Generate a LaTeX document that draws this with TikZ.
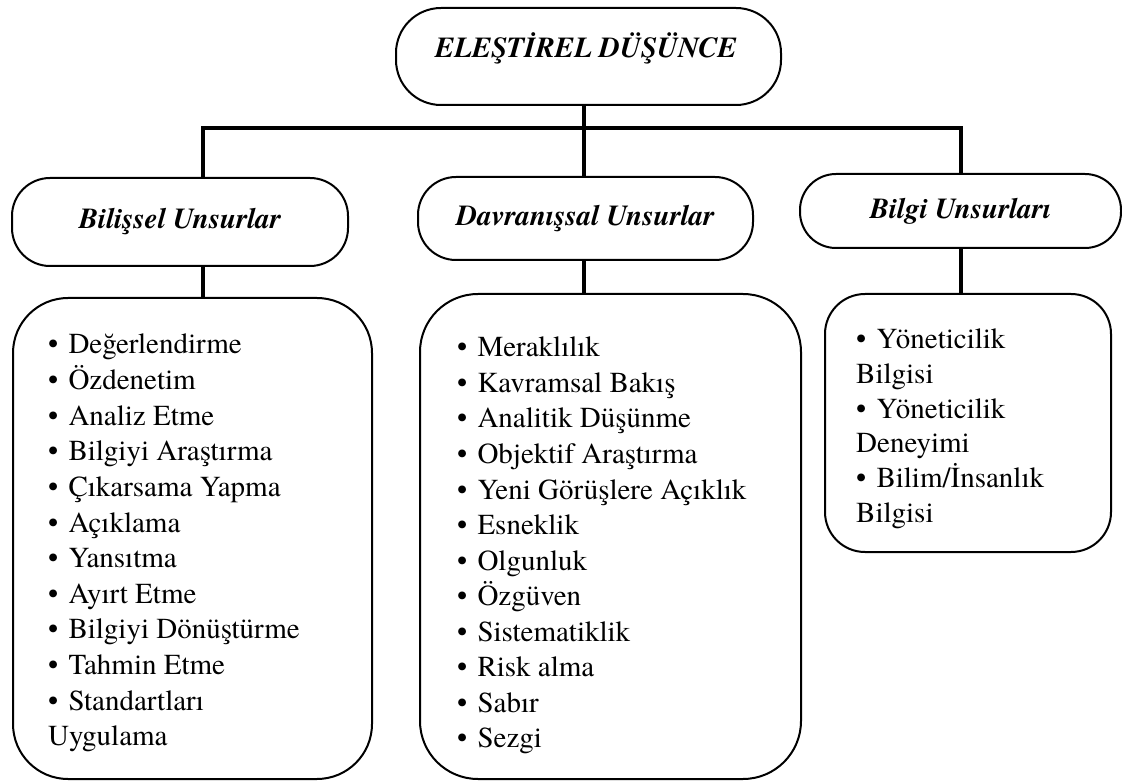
\documentclass[tikz,border=0pt]{standalone}
\usepackage{fontspec}
\setmainfont{texgyretermes}[Extension=.otf, UprightFont=*-regular, BoldFont=*-bold,
  ItalicFont=*-italic, BoldItalicFont=*-bolditalic]
% bullet followed by a slightly wider gap
\newcommand{\itm}{•\hspace{0.35em}}
\begin{document}
\begin{tikzpicture}[x=1pt,y=-1pt,
  frame/.style={draw, line width=2pt, rounded corners=#1, inner sep=0pt, anchor=north west},
  head/.style={font=\fontsize{29}{35}\selectfont\bfseries\itshape},
  item/.style={font=\fontsize{29}{35}\selectfont, anchor=base west, inner sep=0pt},
  link/.style={line width=4.5pt}]
\useasboundingbox[fill=white] (0,0) rectangle (1122,783);

% root concept
\node[frame=45pt, minimum width=385pt, minimum height=97pt] (root) at (395,7) {};
\node[head, anchor=base] (roottext) at (586,58) {ELEŞTİREL DÜŞÜNCE};

% three categories
\node[frame=38pt, minimum width=336pt, minimum height=88pt, head] (catA) at (11,177) {Bilişsel Unsurlar};
\node[frame=38pt, minimum width=335pt, minimum height=83pt, head] (catB) at (417,176) {Davranışsal Unsurlar};
\node[frame=36pt, minimum width=321pt, minimum height=74pt, head] (catC) at (799,173) {Bilgi Unsurları};

% item boxes
\node[frame=55pt, minimum width=359pt, minimum height=481pt] (listA) at (12,297) {};
\node[frame=58pt, minimum width=381pt, minimum height=485pt] (listB) at (419,293) {};
\node[frame=40pt, minimum width=286pt, minimum height=258pt] (listC) at (824,293) {};

% item texts
\foreach \t [count=\i from 0] in {\itm Değerlendirme, \itm Özdenetim, \itm Analiz Etme,
  \itm Bilgiyi Araştırma, \itm Çıkarsama Yapma, \itm Açıklama, \itm Yansıtma, \itm Ayırt Etme,
  \itm Bilgiyi Dönüştürme, \itm Tahmin Etme, \itm Standartları, Uygulama}
  \node[item] (a\i) at (48,{354+35.6*\i}) {\t};
\foreach \t [count=\i from 0] in {\itm Meraklılık, \itm Kavramsal Bakış, \itm Analitik Düşünme,
  \itm Objektif Araştırma, \itm Yeni Görüşlere Açıklık, \itm Esneklik, \itm Olgunluk, \itm Özgüven,
  \itm Sistematiklik, \itm Risk alma, \itm Sabır, \itm Sezgi}
  \node[item] (b\i) at (457,{357+35.5*\i}) {\t};
\foreach \t [count=\i from 0] in {\itm Yöneticilik, Bilgisi, \itm Yöneticilik, Deneyimi,
  \itm Bilim/İnsanlık, Bilgisi}
  \node[item] (c\i) at (856,{349+34.6*\i}) {\t};

% connectors
\coordinate (jA) at (203,128);
\coordinate (jB) at (584,128);
\coordinate (jC) at (961,128);
\draw[link] (jB |- root.south) -- (jB);
\draw[link, line cap=rect] (jA) -- (jC);
\draw[link] (jA) -- (jA |- catA.north);
\draw[link] (jB) -- (jB |- catB.north);
\draw[link] (jC) -- (jC |- catC.north);
\draw[link] (jA |- catA.south) -- (jA |- listA.north);
\draw[link] (jB |- catB.south) -- (jB |- listB.north);
\draw[link] (jC |- catC.south) -- (jC |- listC.north);
\end{tikzpicture}
\end{document}
